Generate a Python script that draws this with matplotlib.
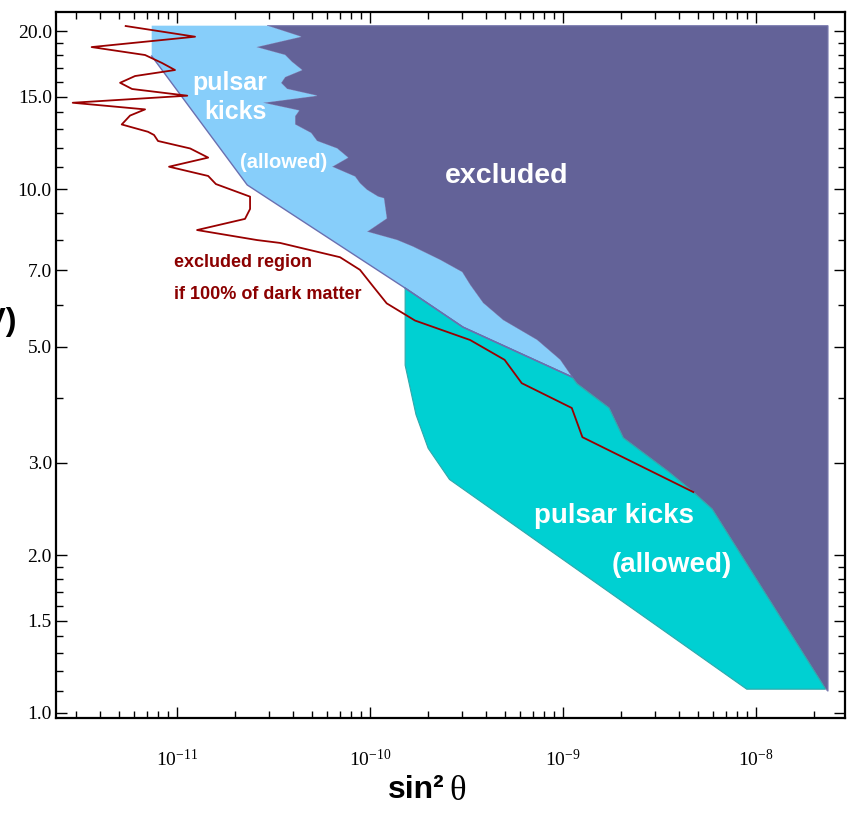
import matplotlib
matplotlib.use("Agg")
import matplotlib.pyplot as plt
from matplotlib.ticker import FixedLocator, FormatStrFormatter, LogLocator, NullFormatter

plt.rcParams["font.family"] = ["Liberation Serif", "DejaVu Serif"]
plt.rcParams["mathtext.fontset"] = "custom"
plt.rcParams["mathtext.rm"] = "Liberation Serif"
plt.rcParams["mathtext.it"] = "Liberation Serif:italic"
plt.rcParams["axes.unicode_minus"] = False

narrow = ["Liberation Sans Narrow", "Liberation Sans", "DejaVu Sans"]

# boundary between excluded region and the pulsar-kick bands (top -> bottom right)
edge_x = [2.93e-11, 4.39e-11, 2.57e-11, 3.63e-11, 3.94e-11, 4.44e-11, 3.63e-11,
          3.46e-11, 3.72e-11, 5.31e-11, 2.79e-11, 4.29e-11, 4.09e-11, 4.09e-11,
          4.95e-11, 5.31e-11, 6.75e-11, 7.69e-11, 6.36e-11, 8.36e-11, 8.87e-11,
          9.65e-11, 1.10e-10, 1.18e-10, 1.22e-10, 9.65e-11, 1.38e-10, 1.67e-10,
          2.31e-10, 3.00e-10, 3.30e-10, 3.85e-10, 4.89e-10, 7.33e-10, 9.65e-10,
          1.11e-9, 1.18e-9, 1.73e-9, 2.05e-9, 3.50e-9, 4.72e-9, 5.92e-9, 2.28e-8]
edge_y = [20.5, 19.53, 18.66, 18.02, 17.48, 16.87, 16.36, 15.94, 15.52, 15.07,
          14.61, 14.12, 13.78, 13.28, 12.79, 12.35, 11.95, 11.48, 11.03, 10.56,
          10.25, 9.96, 9.67, 9.60, 8.79, 8.29, 7.99, 7.76, 7.32, 6.94, 6.56,
          6.06, 5.62, 5.15, 4.72, 4.38, 4.25, 3.82, 3.35, 2.89, 2.64, 2.45, 1.114]
# index in edge where the light blue band ends
split = 35

excl_right_x = [2.36e-8, 2.36e-8]
excl_right_y = [1.10, 20.5]

# light blue band lower-left boundary
blue_x = [7.39e-12, 7.39e-12, 2.31e-11, 1.52e-10, 3.03e-10, 1.11e-9]
blue_y = [20.5, 17.94, 10.18, 6.47, 5.45, 4.38]

# cyan band outer boundary
cyan_x = [1.52e-10, 1.52e-10, 1.73e-10, 2.00e-10, 2.58e-10, 8.95e-9, 2.28e-8]
cyan_y = [6.47, 4.61, 3.71, 3.20, 2.79, 1.11, 1.11]

# dark matter exclusion curve
dm_x = [5.42e-12, 1.24e-11, 3.61e-12, 6.83e-12, 8.36e-12, 9.76e-12, 6.06e-12,
        5.07e-12, 5.85e-12, 1.13e-11, 2.88e-12, 6.83e-12, 5.71e-12, 5.17e-12,
        7.07e-12, 7.60e-12, 7.97e-12, 1.17e-11, 1.45e-11, 9.09e-12, 1.45e-11,
        1.59e-11, 2.39e-11, 2.39e-11, 2.25e-11, 1.27e-11, 2.60e-11, 3.42e-11,
        6.99e-11, 8.87e-11, 1.04e-10, 1.22e-10, 1.71e-10, 3.30e-10, 4.98e-10,
        6.11e-10, 1.11e-9, 1.26e-9, 4.73e-9]
dm_y = [20.47, 19.53, 18.66, 18.02, 17.40, 16.87, 16.43, 15.95, 15.52, 15.07,
        14.61, 14.19, 13.81, 13.28, 12.86, 12.68, 12.35, 11.95, 11.48, 11.03,
        10.59, 10.22, 9.67, 9.16, 8.77, 8.35, 7.99, 7.89, 7.41, 7.01,
        6.51, 6.05, 5.61, 5.15, 4.72, 4.26, 3.82, 3.36, 2.64]

x_major = [1e-11, 1e-10, 1e-9, 1e-8]
y_major = [1.0, 1.5, 2.0, 3.0, 5.0, 7.0, 10.0, 15.0, 20.0]
y_minor = [1.1, 1.2, 1.3, 1.4, 1.6, 1.7, 1.8, 1.9, 4, 6, 8, 9,
           11, 12, 13, 14, 16, 17, 18, 19]

c_dark = "#636298"
c_light = "#87cefa"
c_cyan = "#00d0d2"
c_red = "#990000"

fig = plt.figure(figsize=(8.54, 8.18), dpi=100)
ax = fig.add_axes([56 / 854, 1 - 718 / 818, 789 / 854, 706 / 818])
ax.set_xscale("log")
ax.set_yscale("log")

# excluded region
ex_x = edge_x + excl_right_x
ex_y = edge_y + excl_right_y
ax.fill(ex_x, ex_y, color=c_dark, ec="#7c7cb0", lw=0.8, zorder=1)

# pulsar kicks (upper band)
lb_x = blue_x + edge_x[:split + 1][::-1]
lb_y = blue_y + edge_y[:split + 1][::-1]
ax.fill(lb_x, lb_y, fc=c_light, ec="none", zorder=2)
ax.plot(blue_x[1:], blue_y[1:], color="#6a6fb0", lw=1.0, zorder=4)

# pulsar kicks (lower band)
cy_x = cyan_x + edge_x[split:][::-1] + [blue_x[4], blue_x[3]]
cy_y = cyan_y + edge_y[split:][::-1] + [blue_y[4], blue_y[3]]
ax.fill(cy_x, cy_y, fc=c_cyan, ec="#30a8ab", lw=0.8, zorder=3)
ax.plot(blue_x[3:], blue_y[3:], color="#6a6fb0", lw=1.0, zorder=4)

ax.plot(dm_x, dm_y, color=c_red, lw=1.3, zorder=5)

ax.set_xlim(2.36e-12, 2.89e-8)
ax.set_ylim(0.978, 21.77)

ax.yaxis.set_major_locator(FixedLocator(y_major))
ax.yaxis.set_minor_locator(FixedLocator(y_minor))
ax.yaxis.set_major_formatter(FormatStrFormatter("%.1f"))
ax.yaxis.set_minor_formatter(NullFormatter())
ax.xaxis.set_major_locator(FixedLocator(x_major))
ax.xaxis.set_minor_locator(LogLocator(base=10, subs=range(2, 10), numticks=20))
ax.xaxis.set_minor_formatter(NullFormatter())
ax.set_xticklabels([r"$\mathdefault{10^{-11}}$", r"$\mathdefault{10^{-10}}$",
                    r"$\mathdefault{10^{-9}}$", r"$\mathdefault{10^{-8}}$"])

ax.tick_params(which="both", direction="in", top=True, right=True, width=1.0,
               labelsize=14, colors="black")
ax.tick_params(which="major", length=8)
ax.tick_params(which="minor", length=5)
ax.tick_params(axis="x", pad=22)
ax.tick_params(axis="y", pad=3)
for s in ax.spines.values():
    s.set_linewidth(1.6)

# labels inside the plot
ax.text(1.88e-11, 15.94, "pulsar", color="white", fontsize=18, fontweight="bold",
        family=narrow, ha="center", va="center", zorder=6)
ax.text(2.0e-11, 14.0, "kicks", color="white", fontsize=18, fontweight="bold",
        family=narrow, ha="center", va="center", zorder=6)
ax.text(3.58e-11, 11.26, "(allowed)", color="white", fontsize=14.5, fontweight="bold",
        family=narrow, ha="center", va="center", zorder=6)
ax.text(5.13e-10, 10.59, "excluded", color="white", fontsize=20.5, fontweight="bold",
        family=narrow, ha="center", va="center", zorder=6)
ax.text(1.84e-9, 2.38, "pulsar kicks", color="white", fontsize=20, fontweight="bold",
        family=narrow, ha="center", va="center", zorder=6)
ax.text(3.67e-9, 1.916, "(allowed)", color="white", fontsize=20, fontweight="bold",
        family=narrow, ha="center", va="center", zorder=6)
ax.text(9.65e-12, 7.25, "excluded region", color="#8b0000", fontsize=13,
        fontweight="bold", family=narrow, ha="left", va="center", zorder=6)
ax.text(9.65e-12, 6.28, "if 100% of dark matter", color="#8b0000", fontsize=13,
        fontweight="bold", family=narrow, ha="left", va="center", zorder=6)

# axis labels
fig.text(445 / 854, 1 - 790 / 818, "sin\u00b2", fontsize=23, fontweight="bold",
         family=narrow, ha="right", va="center")
fig.text(449 / 854, 1 - 792 / 818, "\u03b8", fontsize=25,
         family=["Liberation Serif", "DejaVu Serif"], ha="left", va="center")
fig.text(17 / 854, 1 - 322 / 818, "(keV)", fontsize=23, fontweight="bold",
         family=narrow, ha="right", va="center")

fig.savefig("out.png", dpi=100)
